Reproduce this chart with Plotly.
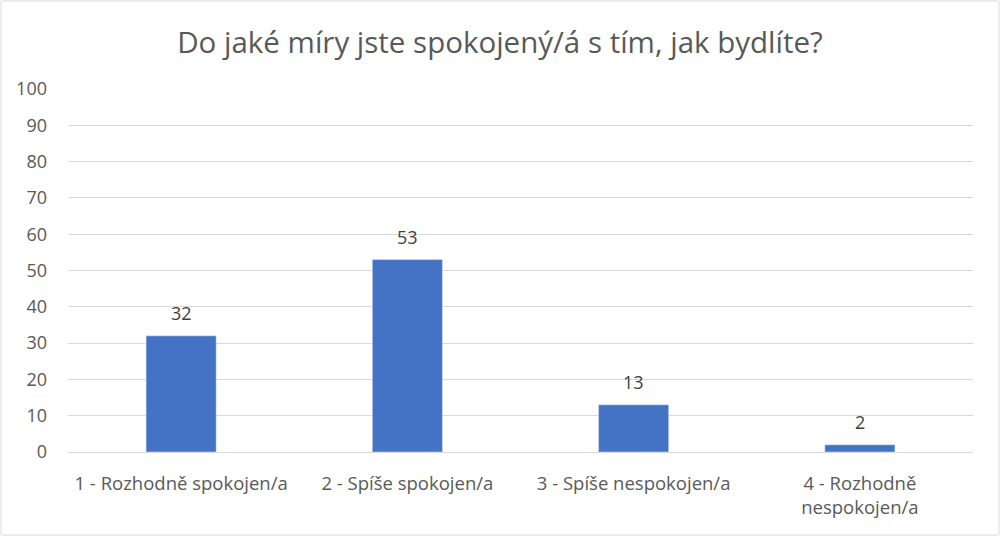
import plotly.graph_objects as go

categories = ["1 - Rozhodně spokojen/a", "2 - Spíše spokojen/a", "3 - Spíše nespokojen/a", "4 - Rozhodně<br>nespokojen/a"]
values = [32, 53, 13, 2]
tick_vals = [0, 10, 20, 30, 40, 50, 60, 70, 80, 90, 100]

FONT = "'Open Sans', 'Liberation Sans', sans-serif"
W, H = 1000, 536
ML, MR, MT, MB = 68, 27, 89, 84

fig = go.Figure()
fig.add_trace(go.Bar(
    x=categories,
    y=values,
    marker=dict(color="#4472c4"),
    hoverinfo="x+y",
))

# value labels sit a bit higher above the bars than plotly's 'outside' text
for cat, val in zip(categories, values):
    fig.add_annotation(
        x=cat, y=val, text=str(val),
        showarrow=False, yanchor="middle", yshift=23,
        font=dict(family=FONT, size=18, color="#404040"),
    )

# thin grey frame round the whole chart
pw, ph = W - ML - MR, H - MT - MB
fig.add_shape(
    type="rect", xref="paper", yref="paper",
    x0=-(ML - 1) / pw, x1=1 + (MR - 1) / pw,
    y0=-(MB - 1) / ph, y1=1 + (MT - 1) / ph,
    line=dict(color="#d9d9d9", width=1),
)

fig.update_layout(
    width=W, height=H,
    margin=dict(l=ML, r=MR, t=MT, b=MB),
    paper_bgcolor="white",
    plot_bgcolor="white",
    title=dict(
        text="Do jaké míry jste spokojený/á s tím, jak bydlíte?",
        x=0.5, xanchor="center", y=1 - 43 / H, yanchor="middle",
        font=dict(family=FONT, size=29.5, color="#595959"),
    ),
    bargap=0.69,
    showlegend=False,
    xaxis=dict(
        showgrid=False,
        showline=True, linecolor="#d9d9d9", linewidth=1,
        ticks="",
        ticklabelstandoff=15,
        tickfont=dict(family=FONT, size=18.5, color="#595959"),
    ),
    yaxis=dict(
        range=[0, 100],
        tickvals=tick_vals,
        showgrid=True, gridcolor="#d9d9d9", gridwidth=1,
        zeroline=False,
        ticks="",
        ticklabelstandoff=20,
        tickfont=dict(family=FONT, size=18, color="#595959"),
    ),
)

# drop the browser's default 8px body margin so the figure sits at 0,0
fig.write_html(
    "out.html",
    config={"displayModeBar": False},
    post_script="document.body.style.margin='0';",
)
